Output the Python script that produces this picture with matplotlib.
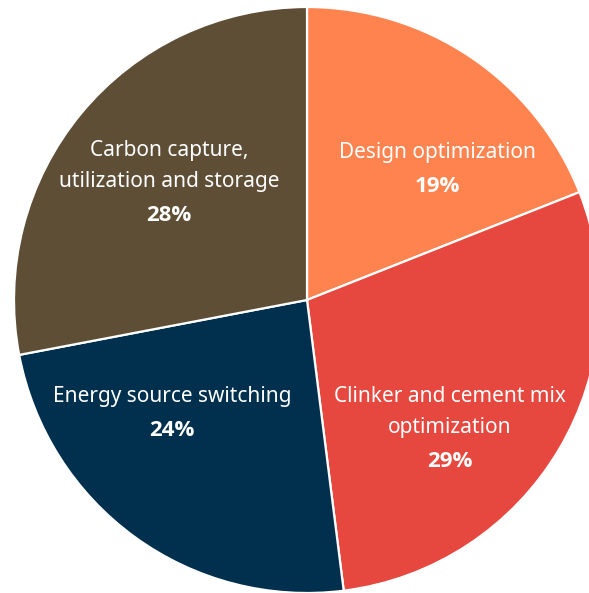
import matplotlib.pyplot as plt

# data
labels = ["Design optimization", "Clinker and cement mix\noptimization",
          "Energy source switching", "Carbon capture,\nutilization and storage"]
shares = [19, 29, 24, 28]
colors = ["#FF834F", "#E6473E", "#00304D", "#5E4E36"]

# label block centres, relative to pie centre in units of radius
label_pos = [(0.444, 0.447), (0.488, -0.44), (-0.461, -0.386), (-0.471, 0.40)]

plt.rcParams['font.family'] = ['Noto Sans', 'DejaVu Sans']

W, H = 589, 593
fig = plt.figure(figsize=(W / 100, H / 100), dpi=100)
ax = fig.add_axes([0, 0, 1, 1])

cx, cy, r = 307, H - 300, 293
ax.pie(shares, colors=colors, startangle=90, counterclock=False,
       center=(cx, cy), radius=r, frame=True,
       wedgeprops=dict(edgecolor='white', linewidth=1.6))
ax.set_xlim(0, W)
ax.set_ylim(0, H)
ax.set_aspect('equal')
ax.axis('off')

line_h, pct_gap = 31, 34
for lab, val, (dx, dy) in zip(labels, shares, label_pos):
    x, y = cx + dx * r, cy + dy * r
    lines = lab.split("\n")
    total = (len(lines) - 1) * line_h + pct_gap
    ty = y + total / 2
    for ln in lines:
        ax.text(x, ty, ln, ha='center', va='center', color='white',
                fontsize=15)
        ty -= line_h
    ty += line_h - pct_gap
    ax.text(x, ty, f"{val}%", ha='center', va='center', color='white',
            fontsize=16, fontweight='bold', family=['Open Sans', 'DejaVu Sans'])

fig.savefig("out.png", dpi=100)
